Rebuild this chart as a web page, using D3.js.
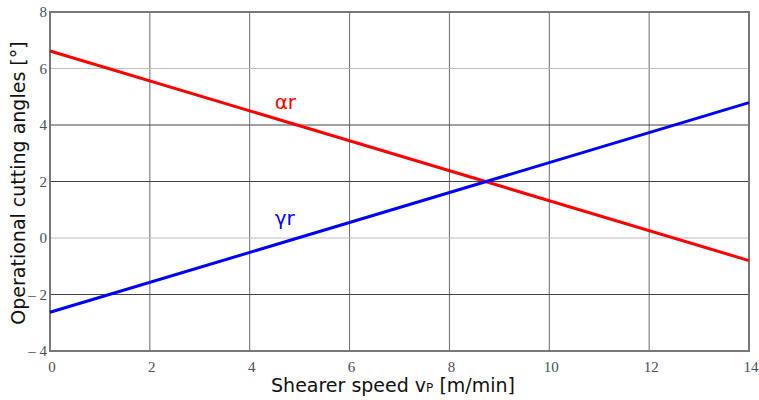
<!DOCTYPE html>
<html>
<head>
<meta charset="utf-8">
<script src="https://cdn.jsdelivr.net/npm/d3@7"></script>
<style>
    body { margin: 0; background: #fff; }
</style>
</head>
<body>
<div class="chart"></div>
<script>
// data
const xTicks = [0, 2, 4, 6, 8, 10, 12, 14]
const yTicks = [-4, -2, 0, 2, 4, 6, 8]
const speed = [0, 14]
const alpha_r = [6.62, -0.8]
const gamma_r = [-2.63, 4.79]
const lightGrid = [0, 6]

const ctx = {
    W: 759,
    H: 400,
    left: 50,
    right: 749,
    top: 12,
    bottom: 351,
}

const svg = d3.select(".chart")
    .append("svg")
    .attr("width", ctx.W)
    .attr("height", ctx.H)

const x = d3.scaleLinear().domain([0, 14]).range([ctx.left, ctx.right])
const y = d3.scaleLinear().domain([-4, 8]).range([ctx.bottom, ctx.top])

// grid
svg.append("g")
    .selectAll("line")
    .data(xTicks.slice(1, -1))
    .enter()
    .append("line")
    .attr("x1", d => x(d)).attr("x2", d => x(d))
    .attr("y1", ctx.top).attr("y2", ctx.bottom)
    .attr("stroke", "#6a6a6a")
    .attr("stroke-width", 1)

svg.append("g")
    .selectAll("line")
    .data(yTicks.slice(1, -1))
    .enter()
    .append("line")
    .attr("x1", ctx.left).attr("x2", ctx.right)
    .attr("y1", d => y(d)).attr("y2", d => y(d))
    .attr("stroke", d => lightGrid.includes(d) ? "#bdbdbd" : "#444")
    .attr("stroke-width", 1)

// frame
svg.append("rect")
    .attr("x", ctx.left).attr("y", ctx.top)
    .attr("width", ctx.right - ctx.left)
    .attr("height", ctx.bottom - ctx.top)
    .attr("fill", "none")
    .attr("stroke", "#777")
    .attr("stroke-width", 2)

// tick labels
const fmt = d => d < 0 ? "\u2013 " + Math.abs(d) : String(d)

svg.append("g")
    .selectAll("text")
    .data(yTicks)
    .enter()
    .append("text")
    .attr("x", ctx.left - 3)
    .attr("y", d => y(d) + 5)
    .attr("text-anchor", "end")
    .attr("font-family", "Liberation Serif")
    .attr("font-size", 15)
    .attr("fill", "#4a4f5a")
    .text(fmt)

svg.append("g")
    .selectAll("text")
    .data(xTicks)
    .enter()
    .append("text")
    .attr("x", d => x(d) + 2)
    .attr("y", ctx.bottom + 21)
    .attr("text-anchor", "middle")
    .attr("font-family", "Liberation Serif")
    .attr("font-size", 15)
    .attr("fill", "#4a4f5a")
    .text(fmt)

// lines
const line = d3.line().x(d => x(d[0])).y(d => y(d[1]))

svg.append("path")
    .attr("d", line(d3.zip(speed, alpha_r)))
    .attr("stroke", "#ff0000")
    .attr("stroke-width", 3)
    .attr("fill", "none")

svg.append("path")
    .attr("d", line(d3.zip(speed, gamma_r)))
    .attr("stroke", "#0000ff")
    .attr("stroke-width", 3)
    .attr("fill", "none")

// line labels
const lbl = svg.append("g").attr("font-family", "DejaVu Sans").attr("font-size", 20)
lbl.append("text").attr("x", x(4.5)).attr("y", y(4.55))
    .attr("fill", "#ff0000").text("\u03b1r")
lbl.append("text").attr("x", x(4.5)).attr("y", y(0.45))
    .attr("fill", "#0000ff").text("\u03b3r")

// axis titles
svg.append("text")
    .attr("x", 393).attr("y", 392)
    .attr("text-anchor", "middle")
    .attr("font-family", "DejaVu Sans")
    .attr("font-size", 19)
    .attr("fill", "#111")
    .html("Shearer speed v<tspan font-size='12'>P</tspan> [m/min]")

svg.append("text")
    .attr("transform", "translate(25,183) rotate(-90)")
    .attr("text-anchor", "middle")
    .attr("font-family", "DejaVu Sans")
    .attr("font-size", 19)
    .attr("fill", "#111")
    .text("Operational cutting angles [°]")
</script>
</body>
</html>
